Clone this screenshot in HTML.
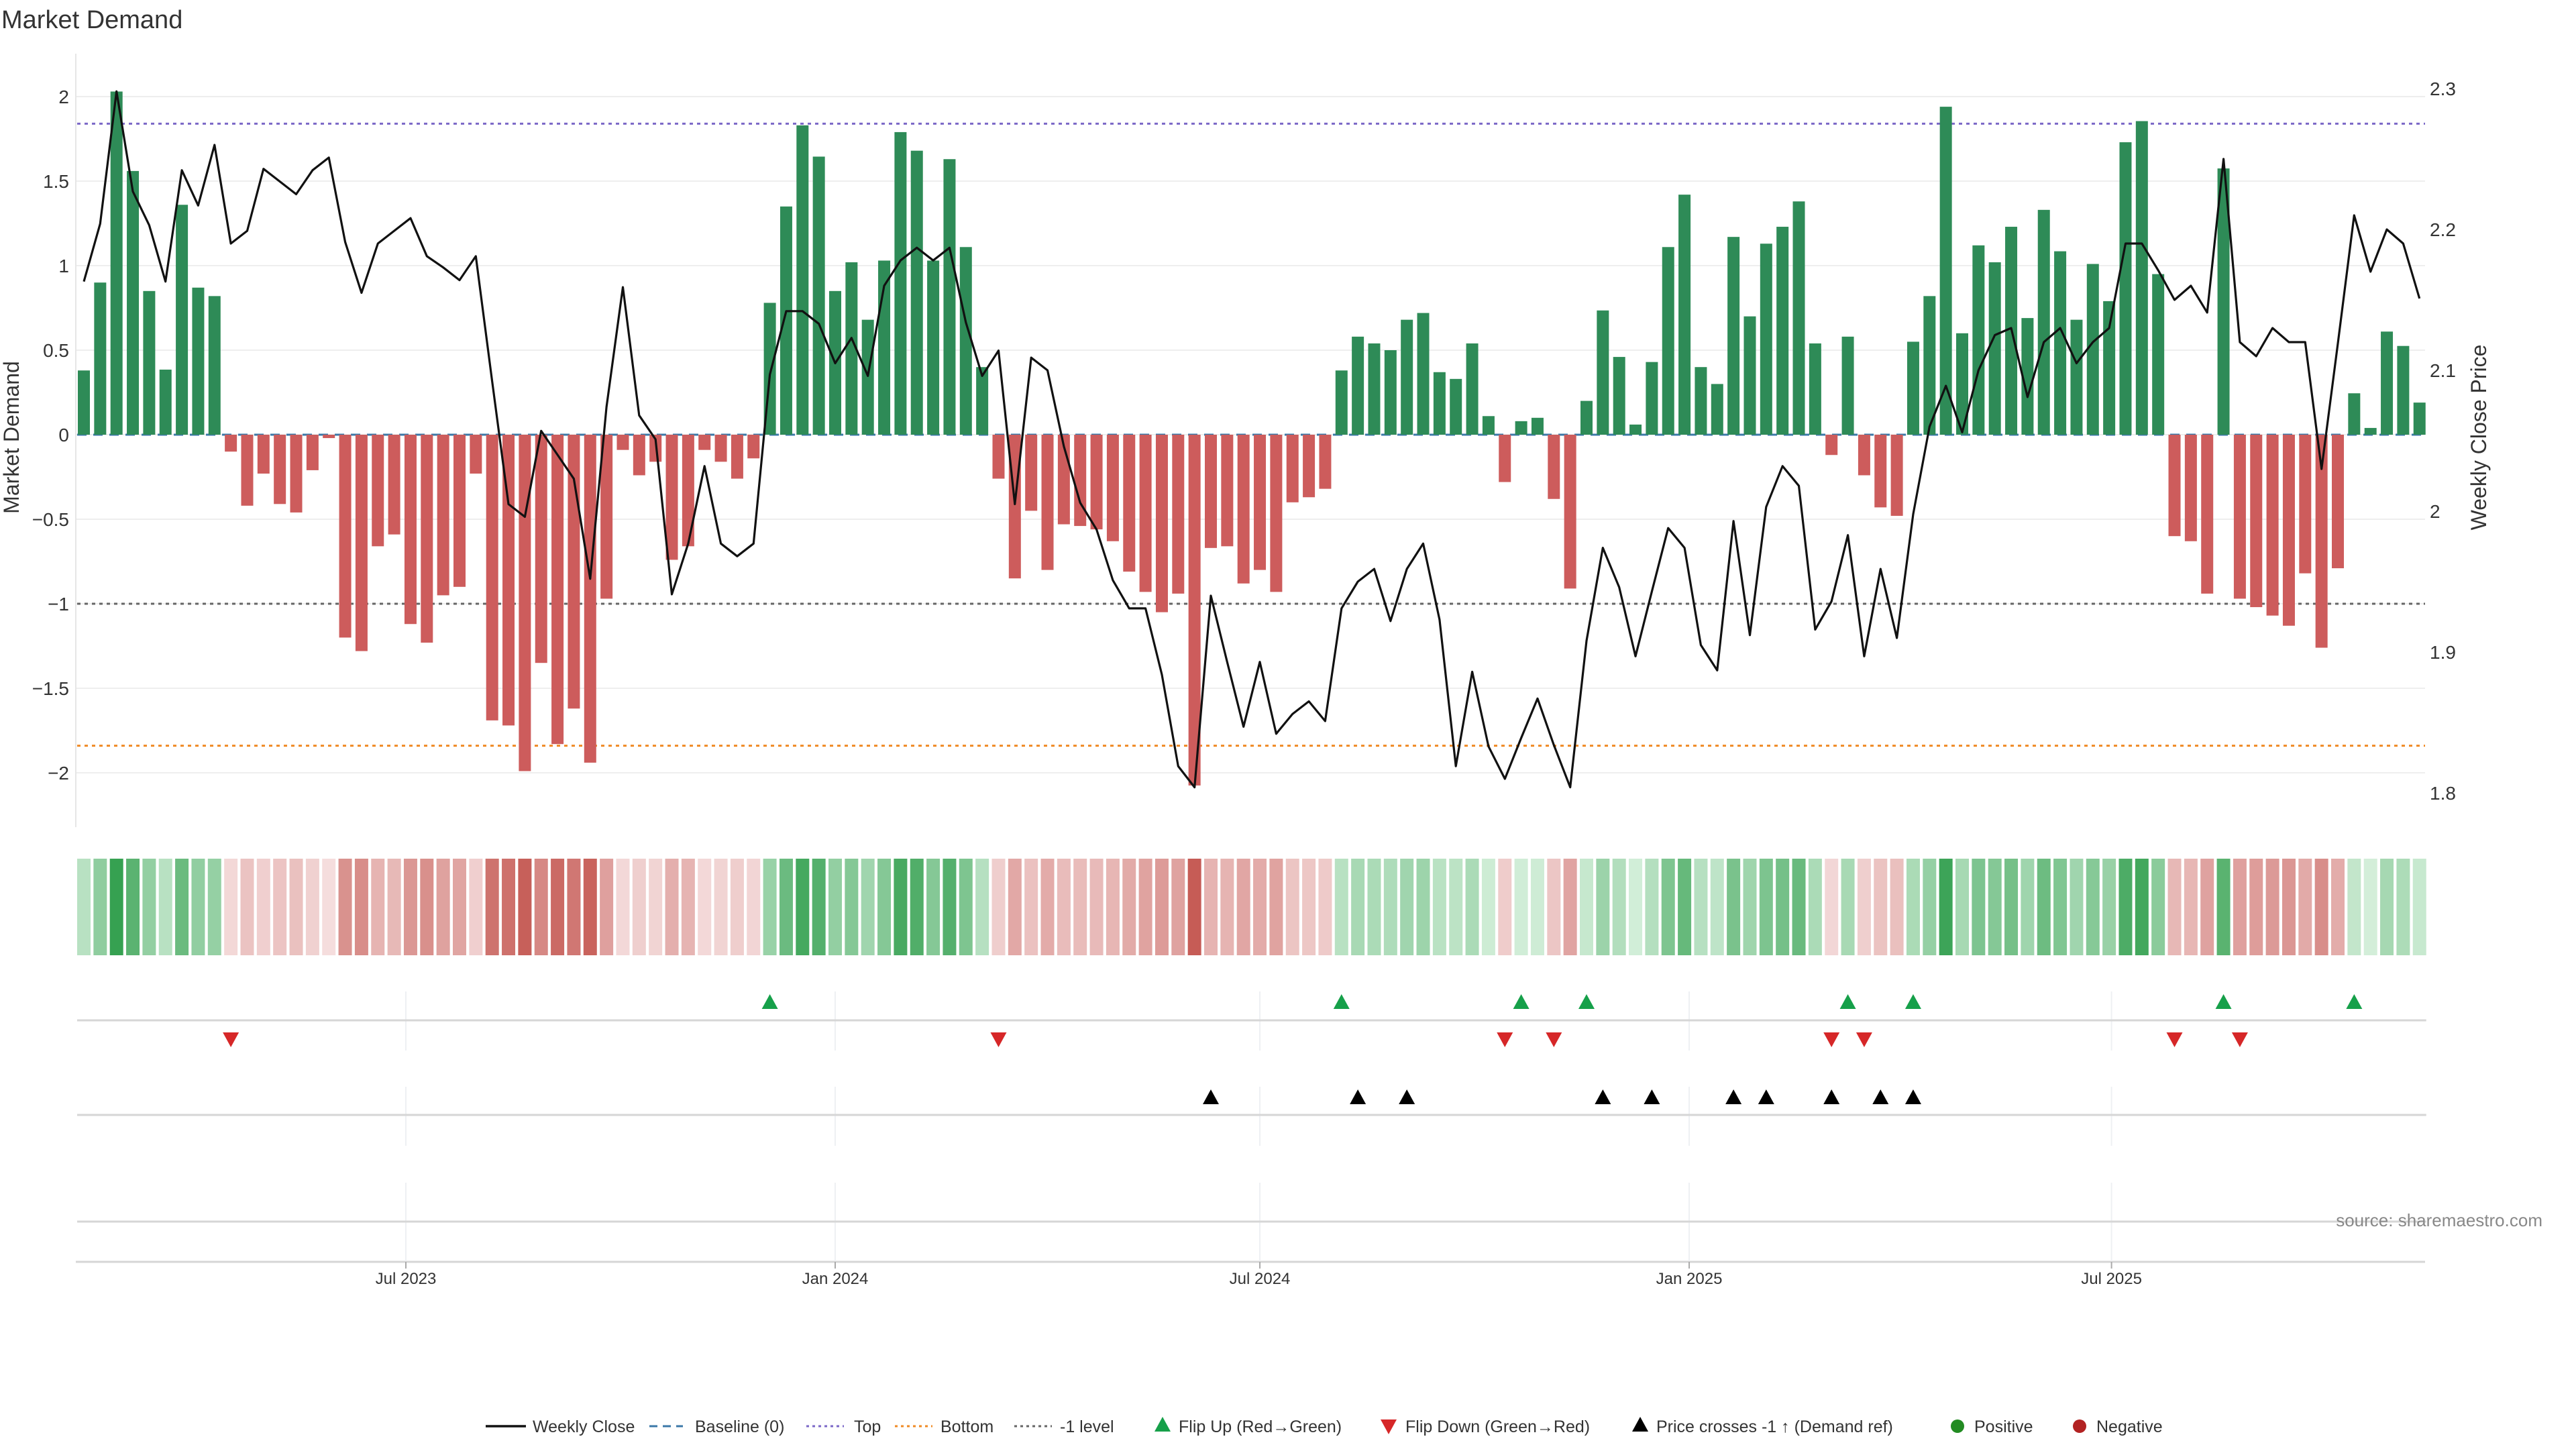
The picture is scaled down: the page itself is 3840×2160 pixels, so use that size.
<!DOCTYPE html>
<html><head><meta charset="utf-8"><style>
html,body{margin:0;padding:0;background:#fff;}
svg{display:block;font-family:"Liberation Sans","DejaVu Sans",sans-serif;}
</style></head><body>
<svg id="chart" width="3840" height="2160" viewBox="0 0 3840 2160" xmlns="http://www.w3.org/2000/svg">
<text x="2" y="42" font-size="38" fill="#333">Market Demand</text>
<g id="grid"></g>
<g id="refs"></g>
<g id="bars"></g>
<g id="price"></g>
<g id="axes"></g>
<g id="heat"></g>
<g id="markers"></g>
<text x="28" y="652" font-size="32" fill="#333" text-anchor="middle" transform="rotate(-90 28 652)">Market Demand</text>
<text x="3706" y="652" font-size="32" fill="#333" text-anchor="middle" transform="rotate(-90 3706 652)">Weekly Close Price</text>
<text x="3790" y="1828" font-size="26" fill="#888" text-anchor="end">source: sharemaestro.com</text>
<g id="legend"></g>
</svg>
<script>
const demand = [0.38,0.90,2.03,1.56,0.85,0.385,1.36,0.87,0.82,-0.10,-0.42,-0.23,-0.41,-0.46,-0.21,-0.02,-1.20,-1.28,-0.66,-0.59,-1.12,-1.23,-0.95,-0.90,-0.23,-1.69,-1.72,-1.99,-1.35,-1.83,-1.62,-1.94,-0.97,-0.09,-0.24,-0.16,-0.74,-0.66,-0.09,-0.16,-0.26,-0.14,0.78,1.35,1.83,1.645,0.85,1.02,0.68,1.03,1.79,1.68,1.03,1.63,1.11,0.40,-0.26,-0.85,-0.45,-0.80,-0.53,-0.54,-0.56,-0.63,-0.81,-0.93,-1.05,-0.94,-2.075,-0.67,-0.66,-0.88,-0.80,-0.93,-0.40,-0.37,-0.32,0.38,0.58,0.54,0.50,0.68,0.72,0.37,0.33,0.54,0.11,-0.28,0.08,0.10,-0.38,-0.91,0.20,0.735,0.46,0.06,0.43,1.11,1.42,0.40,0.30,1.17,0.70,1.13,1.23,1.38,0.54,-0.12,0.58,-0.24,-0.43,-0.48,0.55,0.82,1.94,0.60,1.12,1.02,1.23,0.69,1.33,1.085,0.68,1.01,0.79,1.73,1.855,0.95,-0.60,-0.63,-0.94,1.575,-0.97,-1.02,-1.07,-1.13,-0.82,-1.26,-0.79,0.245,0.04,0.61,0.525,0.19];
const price = [2.163,2.204,2.298,2.227,2.203,2.163,2.242,2.217,2.260,2.190,2.199,2.243,2.234,2.225,2.242,2.251,2.191,2.155,2.190,2.199,2.208,2.181,2.173,2.164,2.181,2.092,2.005,1.996,2.057,2.040,2.023,1.952,2.074,2.159,2.068,2.051,1.941,1.977,2.032,1.977,1.968,1.977,2.097,2.142,2.142,2.133,2.105,2.123,2.096,2.160,2.178,2.187,2.178,2.187,2.134,2.096,2.114,2.005,2.109,2.100,2.046,2.006,1.987,1.951,1.931,1.931,1.884,1.819,1.804,1.940,1.893,1.847,1.893,1.842,1.856,1.865,1.851,1.931,1.950,1.959,1.922,1.959,1.977,1.923,1.819,1.886,1.833,1.810,1.839,1.867,1.834,1.804,1.908,1.974,1.946,1.897,1.943,1.988,1.974,1.905,1.887,1.993,1.912,2.003,2.032,2.018,1.916,1.936,1.983,1.897,1.959,1.910,1.998,2.060,2.089,2.056,2.100,2.125,2.130,2.081,2.120,2.130,2.105,2.120,2.130,2.190,2.190,2.171,2.150,2.160,2.141,2.250,2.120,2.110,2.130,2.120,2.120,2.030,2.119,2.210,2.170,2.200,2.190,2.151];
const startDate = "2023-02-13";
const leftTicks = [2,1.5,1,0.5,0,-0.5,-1,-1.5,-2];
const rightTicks = [2.3,2.2,2.1,2.0,1.9,1.8];
const dateTicks = ["2023-07-01","2024-01-01","2024-07-01","2025-01-01","2025-07-01"];
const dateTickLabels = ["Jul 2023","Jan 2024","Jul 2024","Jan 2025","Jul 2025"];
const topLevel = 1.84;
const bottomLevel = -1.84;
const minusLevel = -1;

const NS="http://www.w3.org/2000/svg";
const DAY=86400000;
const t0=Date.parse(startDate+"T00:00:00Z");
const tJul23=Date.parse("2023-07-01T00:00:00Z");
const PXDAY=640/184;
const X0=605-(tJul23-t0)/DAY*PXDAY;
function xDate(ms){return X0+(ms-t0)/DAY*PXDAY;}
function xIdx(i){return xDate(t0+i*7*DAY);}
function yD(v){return 648-v*252;}
function yP(p){return 132+(2.3-p)*2100;}
const PL=113, PR=3615, PT=80, PB=1233;
function mk(tag,attrs,parent){const e=document.createElementNS(NS,tag);for(const k in attrs)e.setAttribute(k,attrs[k]);parent.appendChild(e);return e;}
const g=id=>document.getElementById(id);
const fmt=v=>{let s=String(Math.abs(v));return (v<0?"\u2212":"")+s;};

leftTicks.forEach(v=>{
  const l=mk('line',{x1:PL,x2:PR,y1:yD(v),y2:yD(v),stroke:'#eeeeee','stroke-width':2},g('grid'));
  
  
  const t=mk('text',{x:103,y:yD(v)+10,'font-size':28,fill:'#333','text-anchor':'end'},g('axes'));
  t.textContent=fmt(v);
  
  
});
rightTicks.forEach(p=>{
  const t=mk('text',{x:3622,y:yP(p)+10,'font-size':28,fill:'#333'},g('axes'));
  t.textContent=String(p);
  
  
});
const ax=mk('line',{x1:PL,x2:PL,y1:PT,y2:PB,stroke:'#e6e6e6','stroke-width':2},g('axes'));



const xs=xIdx(0)-10, xe=xIdx(demand.length-1)+10;
const base=mk('line',{x1:xs,x2:xe,y1:yD(0),y2:yD(0),stroke:'#3b78a8','stroke-width':3,'stroke-dasharray':'14 10'},g('refs'));


[[topLevel,'#7b68c8','top-level-line'],[bottomLevel,'#f08a24','bottom-level-line'],[minusLevel,'#666','minus-one-level-line']].forEach(r=>{
  const l=mk('line',{x1:xs,x2:PR,y1:yD(r[0]),y2:yD(r[0]),stroke:r[1],'stroke-width':3,'stroke-dasharray':'5 6'},g('refs'));
  
  
});

demand.forEach((v,i)=>{
  const x=xIdx(i);
  const y1=yD(Math.max(v,0)), y2=yD(Math.min(v,0));
  const r=mk('rect',{x:x-9,y:y1,width:18,height:Math.max(1,y2-y1),fill:v>=0?'#2e8b57':'#cd5c5c'},g('bars'));
  
  
});

const pts=price.map((p,i)=>xIdx(i).toFixed(1)+','+yP(p).toFixed(1)).join(' ');
const pl=mk('polyline',{points:pts,fill:'none',stroke:'#111','stroke-width':3.2,'stroke-linejoin':'round'},g('price'));



function mix(a,b,t){return 'rgb('+a.map((c,k)=>Math.round(c+(b[k]-c)*t)).join(',')+')';}
demand.forEach((v,i)=>{
  const t=Math.min(Math.abs(v)/2.05,1);
  const col=v>=0?mix([214,240,220],[52,160,80],t):mix([245,222,222],[198,92,86],t);
  const r=mk('rect',{x:xIdx(i)-10,y:1280,width:20,height:144,fill:col},g('heat'));
  
  
});

[[1478,1566],[1620,1708],[1763,1880]].forEach(span=>{
  dateTicks.forEach(d=>{
    const x=xDate(Date.parse(d+"T00:00:00Z"));
    const l=mk('line',{x1:x,x2:x,y1:span[0],y2:span[1],stroke:'#eef0f3','stroke-width':2},g('markers'));
    
    
  });
});
[1521,1662,1821].forEach(y=>{
  const l=mk('line',{x1:xs,x2:xe,y1:y,y2:y,stroke:'#d6d6d6','stroke-width':3},g('markers'));
  
  
});
const axl=mk('line',{x1:PL,x2:PR,y1:1881,y2:1881,stroke:'#d6d6d6','stroke-width':3},g('axes'));


dateTicks.forEach((d,k)=>{
  const x=xDate(Date.parse(d+"T00:00:00Z"));
  const tk=mk('line',{x1:x,x2:x,y1:1881,y2:1891,stroke:'#aaa','stroke-width':2},g('axes'));
  
  
  const t=mk('text',{x:x,y:1914,'font-size':24,fill:'#333','text-anchor':'middle'},g('axes'));
  t.textContent=dateTickLabels[k];
  
  
});
function tri(x,y,up,col,name){
  const d=up?`M${x-12},${y+10} L${x+12},${y+10} L${x},${y-12} Z`:`M${x-12},${y-10} L${x+12},${y-10} L${x},${y+12} Z`;
  const p=mk('path',{d:d,fill:col},g('markers'));
  
  
}
const priceAtMinus=2.3-(yD(minusLevel)-132)/2100;
for(let i=1;i<demand.length;i++){
  if(demand[i-1]<0&&demand[i]>=0)tri(xIdx(i),1494,true,'#16a04a','flip-up-marker');
  if(demand[i-1]>=0&&demand[i]<0)tri(xIdx(i),1549,false,'#d62728','flip-down-marker');
  if(price[i-1]<priceAtMinus&&price[i]>=priceAtMinus)tri(xIdx(i),1636,true,'#000','price-cross-marker');
}

const L=g('legend'); const LY=2126;
function ltext(x,s){const t=mk('text',{x:x,y:LY+9,'font-size':25,fill:'#333'},L);t.textContent=s;}
function lline(x1,x2,col,dash,w){const l=mk('line',{x1:x1,x2:x2,y1:LY,y2:LY,stroke:col,'stroke-width':w,'stroke-dasharray':dash},L);}
lline(724,784,'#111','none',3.5); ltext(794,'Weekly Close');
lline(968,1018,'#3b78a8','12 8',3); ltext(1036,'Baseline (0)');
lline(1202,1258,'#7b68c8','4 5',3); ltext(1273,'Top');
lline(1334,1390,'#f08a24','4 5',3); ltext(1402,'Bottom');
lline(1512,1568,'#666','4 5',3); ltext(1580,'-1 level');
tri(1733,LY-2,true,'#16a04a','legend-swatch'); ltext(1757,'Flip Up (Red\u2192Green)');
tri(2070,LY,false,'#d62728','legend-swatch'); ltext(2095,'Flip Down (Green\u2192Red)');
tri(2445,LY-2,true,'#000','legend-swatch'); ltext(2469,'Price crosses -1 \u2191 (Demand ref)');
let c1=mk('circle',{cx:2918,cy:LY,r:10,fill:'#228b22'},L); ltext(2943,'Positive');
let c2=mk('circle',{cx:3100,cy:LY,r:10,fill:'#b22222'},L); ltext(3125,'Negative');
</script>
</body></html>
